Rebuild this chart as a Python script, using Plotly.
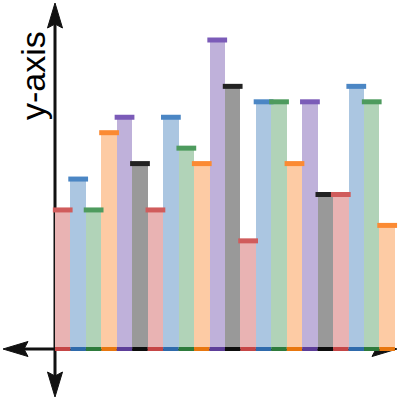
import plotly.graph_objects as go

values = [9, 11, 9, 14, 15, 12, 9, 15, 13, 12, 20, 17, 7, 16, 16, 12, 16, 10, 10, 17, 16, 8]
color_names = ["red", "blue", "green", "orange", "purple", "black"]
fill_colors = {"red": "#e9b3b3", "blue": "#abc6e1", "green": "#b1d3b8", "orange": "#fdcba4",
               "purple": "#bfb1da", "black": "#999999"}
top_colors = {"red": "#d05c5c", "blue": "#4b86c4", "green": "#4e9b5e", "orange": "#fb8a33",
              "purple": "#7b5bb8", "black": "#222222"}
bottom_colors = {"red": "#c54646", "blue": "#2f6aab", "green": "#2e7b3c", "orange": "#e8770f",
                 "purple": "#5d3e98", "black": "#0d0d0d"}
y_label = "y-axis"

n = len(values)
xs = list(range(n))
cols = [color_names[i % len(color_names)] for i in range(n)]

fig = go.Figure()
fig.add_trace(go.Bar(x=xs, y=values, width=1,
                     marker=dict(color=[fill_colors[c] for c in cols], line=dict(width=0)),
                     hoverinfo="skip", showlegend=False))
cap = 0.14
for i, v in enumerate(values):
    c = cols[i]
    fig.add_trace(go.Scatter(x=[i - 0.5, i + 0.5], y=[0, 0], mode="lines",
                             line=dict(color=bottom_colors[c], width=4),
                             showlegend=False, hoverinfo="skip"))
for i, v in enumerate(values):
    c = cols[i]
    fig.add_trace(go.Scatter(x=[i - 0.5 - cap, i + 0.5 + cap], y=[v, v], mode="lines",
                             line=dict(color=top_colors[c], width=5),
                             showlegend=False, hoverinfo="skip"))

# pixel scale: ~15.45 px per unit, origin at (55, 349)
s = 15.45
ox, oy = 55, 349
x_range = [-0.5 - ox / s, -0.5 + (400 - ox) / s]
y_range = [-(400 - oy) / s, oy / s]

def P(px, py):
    return px / 400, 1 - py / 400

def path(pts):
    d = "M " + " L ".join(f"{P(x, y)[0]:.5f},{P(x, y)[1]:.5f}" for x, y in pts) + " Z"
    return d

shapes = []
shapes.append(dict(type="line", xref="paper", yref="paper", x0=P(55, 20)[0], y0=P(55, 20)[1],
                   x1=P(55, 380)[0], y1=P(55, 380)[1], line=dict(color="#111", width=3), layer="below"))
shapes.append(dict(type="line", xref="paper", yref="paper", x0=P(20, 349)[0], y0=P(20, 349)[1],
                   x1=P(380, 349)[0], y1=P(380, 349)[1], line=dict(color="#111", width=3), layer="below"))
arrows = [
    [(55, 3), (47.5, 28), (55, 24), (62.5, 28)],
    [(55, 397), (47.5, 372), (55, 376), (62.5, 372)],
    [(3, 349), (28, 341.5), (24, 349), (28, 356.5)],
    [(397, 349), (372, 341.5), (376, 349), (372, 356.5)],
]
for a in arrows:
    shapes.append(dict(type="path", xref="paper", yref="paper", path=path(a),
                       fillcolor="#111", line=dict(color="#111", width=1), layer="below"))

fig.update_layout(
    width=400, height=400, margin=dict(l=0, r=0, t=0, b=0),
    paper_bgcolor="white", plot_bgcolor="white", bargap=0,
    xaxis=dict(range=x_range, visible=False, fixedrange=True),
    yaxis=dict(range=y_range, visible=False, fixedrange=True),
    shapes=shapes,
    annotations=[dict(text=y_label, xref="paper", yref="paper", x=P(33, 76)[0], y=P(33, 76)[1],
                      showarrow=False, textangle=-90, xanchor="center", yanchor="middle",
                      font=dict(family="Liberation Sans, Arial, sans-serif", size=34, color="black"))],
)
fig.write_html("out.html", config={"displayModeBar": False},
               post_script="document.body.style.margin='0';document.body.style.overflow='hidden';")
